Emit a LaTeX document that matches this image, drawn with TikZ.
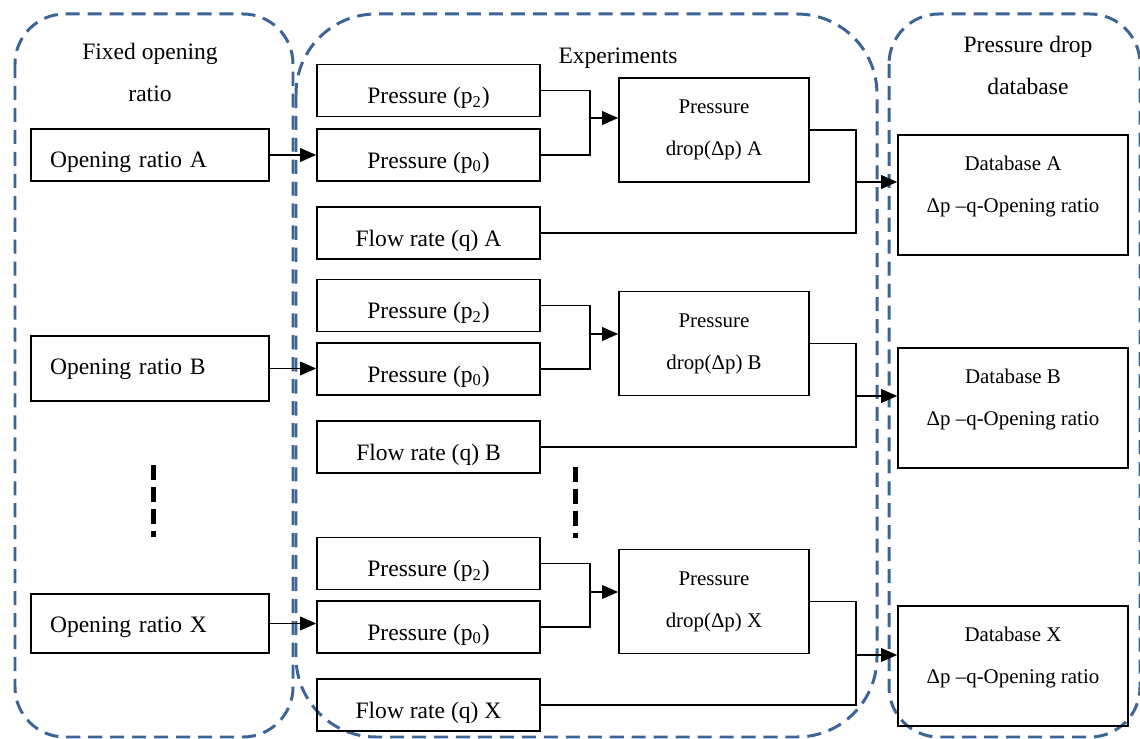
\documentclass[tikz,border=0pt]{standalone}
\usepackage{fontspec}
\setmainfont{Liberation Serif}
\usetikzlibrary{arrows.meta}

\definecolor{groupblue}{RGB}{61,100,150}

\tikzset{
    box/.style      = {draw, line width=0.9pt, minimum width=4.46cm, minimum height=1.04cm, inner sep=0pt,
                       text height=18pt, text depth=3pt},
    ratiobox/.style = {draw, line width=0.9pt, text width=4.0cm, inner xsep=0.38cm, inner ysep=0pt,
                       minimum height=1.04cm, align=left, text height=17.5pt, text depth=3pt},
    dropbox/.style  = {draw, line width=0.9pt, minimum width=3.8cm, minimum height=2.08cm, align=center,
                       font=\fontsize{11.9}{14.2}\selectfont},
    dbbox/.style    = {draw, line width=0.9pt, minimum width=4.6cm, minimum height=2.4cm, align=center,
                       font=\fontsize{11.9}{14.2}\selectfont},
    group/.style    = {draw=groupblue, line width=1.7pt, dash pattern=on 8pt off 4.5pt},
    link/.style     = {line width=1pt},
    feed/.style     = {link, -{Triangle[length=0.32cm,width=0.27cm]}},
    etc/.style      = {line width=0.1cm, dash pattern=on 0.3cm off 0.14cm},
}

\begin{document}
\begin{tikzpicture}[x=0.02cm, y=-0.02cm, font=\fontsize{13.4}{16}\selectfont]
    \useasboundingbox (0,0) rectangle (1140,739);

    % dashed groups
    \draw [group, rounded corners=1cm]   (15,14)  rectangle (293,737);
    \draw [group, rounded corners=1.6cm] (296,14) rectangle (877,737);
    \draw [group, rounded corners=1cm]   (889,14) rectangle (1140,737);

    \node (tFix) at (150,72.5)  [align=center] {Fixed opening\\[0.26cm]ratio};
    \node (tExp) at (618,58)                   {Experiments};
    \node (tDb)  at (1028,65.5) [align=center] {Pressure drop\\[0.26cm]database};

    % opening ratios
    \node (orA) at (150,155)   [ratiobox] {Opening ratio A};
    \node (orB) at (150,368.5) [ratiobox, minimum height=1.3cm, text height=9.5pt] {Opening ratio B};
    \node (orX) at (150,623.5) [ratiobox, minimum height=1.18cm, text height=13pt] {Opening ratio X};

    % experiments
    \node (p2A)   at (428.5,90.5)  [box] {Pressure (p\textsubscript{2})};
    \node (p0A)   at (428.5,155)   [box] {Pressure (p\textsubscript{0})};
    \node (flowA) at (428.5,233)   [box] {Flow rate (q) A};
    \node (dropA) at (714,130)     [dropbox] {Pressure\\[0.34cm]drop(Δp) A};

    \node (p2B)   at (428.5,305.5) [box] {Pressure (p\textsubscript{2})};
    \node (p0B)   at (428.5,369)   [box] {Pressure (p\textsubscript{0})};
    \node (flowB) at (428.5,447)   [box] {Flow rate (q) B};
    \node (dropB) at (714,343.5)   [dropbox] {Pressure\\[0.34cm]drop(Δp) B};

    \node (p2X)   at (428.5,563.5) [box] {Pressure (p\textsubscript{2})};
    \node (p0X)   at (428.5,627)   [box] {Pressure (p\textsubscript{0})};
    \node (flowX) at (428.5,705)   [box] {Flow rate (q) X};
    \node (dropX) at (714,601.5)   [dropbox] {Pressure\\[0.34cm]drop(Δp) X};

    % databases
    \node (dbA) at (1013,195) [dbbox] {Database A\\[0.34cm]Δp –q-Opening ratio\\[-0.06cm]};
    \node (dbB) at (1013,408) [dbbox] {Database B\\[0.34cm]Δp –q-Opening ratio\\[-0.06cm]};
    \node (dbX) at (1013,666) [dbbox] {Database X\\[0.34cm]Δp –q-Opening ratio\\[-0.06cm]};

    % junctions
    \coordinate (jA) at (590,118);
    \coordinate (kA) at (856,182);
    \coordinate (jB) at (590,334);
    \coordinate (kB) at (856,396);
    \coordinate (jX) at (590,592);
    \coordinate (kX) at (856,655);

    \draw [feed] (orA.east) -- (orA.east -| p0A.west);
    \draw [feed] (orB.east) -- (orB.east -| p0B.west);
    \draw [feed] (orX.east) -- (orX.east -| p0X.west);

    \draw [link] (p2A.east) -| (jA) |- (p0A.east);
    \draw [feed] (jA) -- (jA -| dropA.west);
    \draw [link] (dropA.east) -| (kA) |- (flowA.east);
    \draw [feed] (kA) -- (kA -| dbA.west);

    \draw [link] (p2B.east) -| (jB) |- (p0B.east);
    \draw [feed] (jB) -- (jB -| dropB.west);
    \draw [link] (dropB.east) -| (kB) |- (flowB.east);
    \draw [feed] (kB) -- (kB -| dbB.west);

    \draw [link] (p2X.east) -| (jX) |- (p0X.east);
    \draw [feed] (jX) -- (jX -| dropX.west);
    \draw [link] (dropX.east) -| (kX) |- (flowX.east);
    \draw [feed] (kX) -- (kX -| dbX.west);

    % more of the same
    \draw [etc] (153,465) -- (153,537);
    \draw [etc] (575,467) -- (575,538);
\end{tikzpicture}
\end{document}
